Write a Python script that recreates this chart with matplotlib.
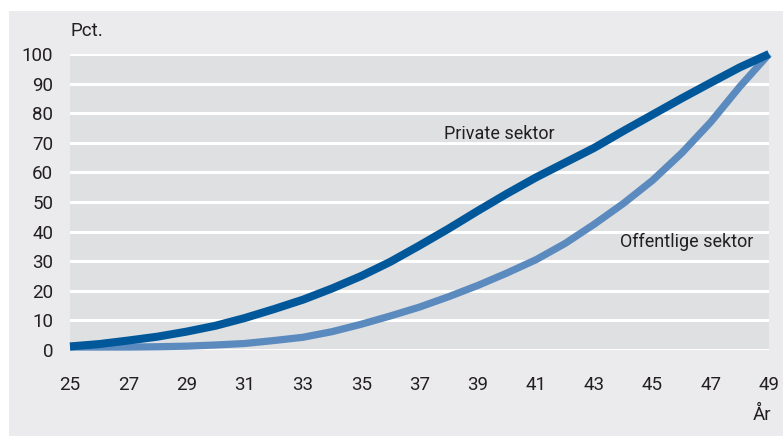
import matplotlib
matplotlib.use("Agg")
import matplotlib.pyplot as plt
from matplotlib.patches import Rectangle

ages = list(range(25, 50))
private = [1.2, 2.0, 3.2, 4.5, 6.2, 8.2, 10.8, 13.8, 17.0, 20.8, 25.0, 29.8, 35.3,
           41.0, 47.0, 52.8, 58.3, 63.3, 68.3, 74.0, 79.5, 85.0, 90.3, 95.5, 100.0]
public = [1.0, 1.0, 1.0, 1.1, 1.3, 1.7, 2.2, 3.2, 4.3, 6.2, 8.7, 11.5, 14.5,
          18.0, 21.8, 26.0, 30.5, 36.0, 42.5, 49.5, 57.3, 66.5, 77.0, 89.0, 100.0]
xticks = list(range(25, 50, 2))
yticks = list(range(0, 101, 10))
series_labels = ["Private sektor", "Offentlige sektor"]

plt.rcParams['font.family'] = ['Roboto', 'DejaVu Sans']
txt = '#231f20'

W, H = 783, 436
fig = plt.figure(figsize=(W / 100, H / 100), dpi=100)
fig.patch.set_facecolor('white')
fig.patches.append(Rectangle((9 / W, 0), 1 - 9 / W, 1 - 11 / H, transform=fig.transFigure,
                             facecolor='#ebebed', edgecolor='none', zorder=-10))

ax = fig.add_axes([70 / W, 1 - 350 / H, (769 - 70) / W, (350 - 54) / H])
ax.set_facecolor('#dfe0e2')
ax.set_xlim(25, 49)
ax.set_ylim(0, 100)
for s in ax.spines.values():
    s.set_visible(False)
ax.set_yticks(yticks)
ax.set_xticks(xticks)
ax.tick_params(axis='both', length=0, labelsize=13.5, colors=txt)
ax.tick_params(axis='y', pad=12)
ax.tick_params(axis='x', pad=19)
ax.grid(axis='y', color='white', linewidth=2.2)
ax.set_axisbelow(True)

ax.plot(ages, public, color='#5b8abf', linewidth=5.2, solid_capstyle='butt', clip_on=False, zorder=3)
ax.plot(ages, private, color='#00589b', linewidth=5.8, solid_capstyle='butt', clip_on=False, zorder=4)

ax.text(39.75, 73, series_labels[0], ha='center', va='center', fontsize=13, color=txt)
ax.text(46.17, 36.5, series_labels[1], ha='center', va='center', fontsize=13, color=txt)

fig.text(70 / W, 1 - 31 / H, "Pct.", ha='left', va='center', fontsize=13.5, color=txt)
fig.text(771 / W, 1 - 415 / H, "År", ha='right', va='center', fontsize=13.5, color=txt)

fig.savefig("out.png", dpi=100, facecolor=fig.get_facecolor())
